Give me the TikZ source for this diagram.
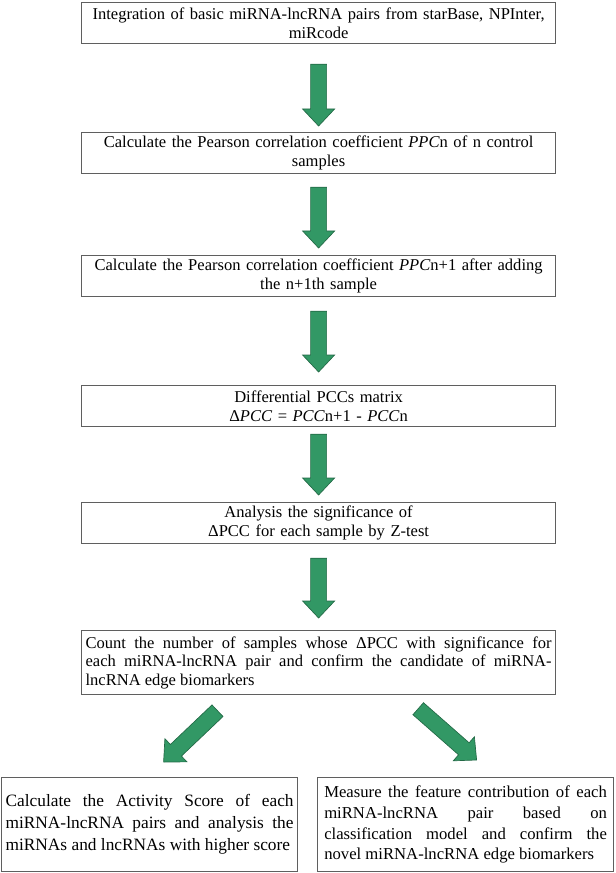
\documentclass[tikz,border=0pt]{standalone}
\usepackage{fontspec}
\setmainfont{Liberation Serif}
\usepackage{tikz}
\usetikzlibrary{calc}

\definecolor{arrowgreen}{RGB}{50,152,101}
\definecolor{arrowedge}{RGB}{35,105,70}
\definecolor{boxline}{RGB}{95,95,95}

\tikzset{
  flowbox/.style={draw=boxline, line width=0.9pt, anchor=north west, inner xsep=3pt, inner ysep=2pt,
    text width=349.5pt, minimum height=30.75pt, align=center, font=\fontsize{12.4}{13.9}\selectfont},
  sidebox/.style={draw=boxline, line width=0.9pt, anchor=north west, inner ysep=2pt,
    minimum height=70.5pt, align=justify},
  arrowbody/.style={fill=arrowgreen, draw=arrowedge, line width=0.5pt, line join=miter}
}

% block arrow from tail #1 to tip #2
\newcommand{\blockarrow}[2]{%
  \coordinate (hb) at ($(#2)!12.75pt!(#1)$);
  \filldraw[arrowbody] ($(#1)!6pt!90:(#2)$) -- ($(hb)!6pt!-90:(#1)$) -- ($(hb)!12pt!-90:(#1)$) -- (#2)
    -- ($(hb)!12pt!90:(#1)$) -- ($(hb)!6pt!90:(#1)$) -- ($(#1)!6pt!-90:(#2)$) -- cycle;}

\begin{document}
\begin{tikzpicture}[x=0.75pt,y=0.75pt,yscale=-1,xscale=1]
\useasboundingbox (0,0) rectangle (615,873);

% Text Node
\node[flowbox] (box1) at (81,2) {Integration of basic miRNA-lncRNA pairs from starBase, NPInter,\\miRcode};
% Text Node
\node[flowbox] (box2) at (81,132) {Calculate the Pearson correlation coefficient \textit{PPC}n of n control\\samples};
% Text Node
\node[flowbox] (box3) at (81,255) {Calculate the Pearson correlation coefficient \textit{PPC}n+1 after adding\\the n+1th sample};
% Text Node
\node[flowbox] (box4) at (81,385) {Differential PCCs matrix\\Δ\textit{PCC} = \textit{PCC}n+1 - \textit{PCC}n};
% Text Node
\node[flowbox] (box5) at (81,502) {Analysis the significance of\\ΔPCC for each sample by Z-test};
% Text Node
\node[flowbox, align=justify, minimum height=48pt] (box6) at (81,630) {Count the number of samples whose ΔPCC with significance for\linebreak each miRNA-lncRNA pair and confirm the candidate of miRNA-\linebreak lncRNA edge biomarkers};
% Text Node
\node[sidebox, inner xsep=3pt, text width=216pt, font=\fontsize{13}{16.5}\selectfont] (box7) at (1,777) {Calculate the Activity Score of each\linebreak miRNA-lncRNA pairs and analysis the\linebreak miRNAs and lncRNAs with higher score};
% Text Node
\node[sidebox, inner xsep=5pt, text width=212pt, font=\fontsize{12.5}{15.5}\selectfont] (box8) at (317,777) {Measure the feature contribution of each\linebreak miRNA-lncRNA pair based on\linebreak classification model and confirm the\linebreak novel miRNA-lncRNA edge biomarkers};

%Shape: Arrows between boxes
\coordinate (t1) at ($(box1.south)+(0,20)$);
\coordinate (h1) at ($(box2.north)+(0,-6)$);
\coordinate (t2) at ($(box2.south)+(0,13)$);
\coordinate (h2) at ($(box3.north)+(0,-7)$);
\coordinate (t3) at ($(box3.south)+(0,14)$);
\coordinate (h3) at ($(box4.north)+(0,-13)$);
\coordinate (t4) at ($(box4.south)+(0,7)$);
\coordinate (h4) at ($(box5.north)+(0,-7)$);
\coordinate (t5) at ($(box5.south)+(0,14)$);
\coordinate (h5) at ($(box6.north)+(0,-12)$);
\coordinate (t6) at ($(box6.south west)+(136.5,15.5)$);
\coordinate (h6) at ($(box7.north)+(14,-15)$);
\coordinate (t7) at ($(box6.south east)+(-138,13.5)$);
\coordinate (h7) at ($(box8.north)+(11,-17)$);

\blockarrow{t1}{h1}
\blockarrow{t2}{h2}
\blockarrow{t3}{h3}
\blockarrow{t4}{h4}
\blockarrow{t5}{h5}
\blockarrow{t6}{h6}
\blockarrow{t7}{h7}

\end{tikzpicture}
\end{document}
